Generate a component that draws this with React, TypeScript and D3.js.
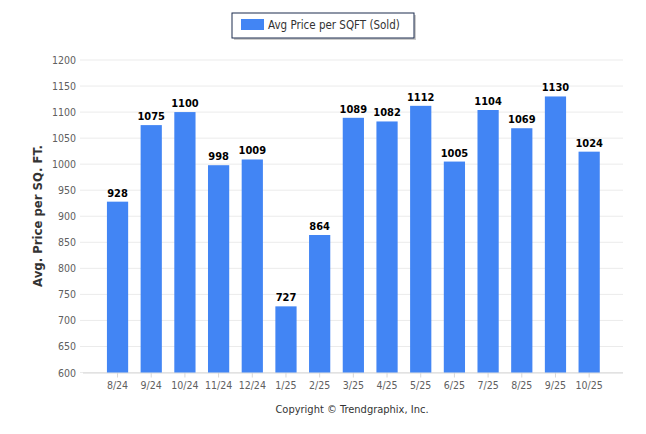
import { useMemo } from "react";
import * as d3 from "d3";

const months = ["8/24", "9/24", "10/24", "11/24", "12/24", "1/25", "2/25", "3/25", "4/25", "5/25", "6/25", "7/25", "8/25", "9/25", "10/25"];
const avgPrice = [928, 1075, 1100, 998, 1009, 727, 864, 1089, 1082, 1112, 1005, 1104, 1069, 1130, 1024];
const yTicks = [600, 650, 700, 750, 800, 850, 900, 950, 1000, 1050, 1100, 1150, 1200];

const font = "'DejaVu Sans Condensed', 'DejaVu Sans', Tahoma, sans-serif";

export default function App() {
  const layout = useMemo(() => {
    const width = 646;
    const height = 434;
    const plot = { left: 80, right: 623, top: 60, bottom: 372.5 };
    const x = d3.scaleBand<string>().domain(months).range([100.7, 606]).paddingInner(0.37).paddingOuter(0.185);
    const y = d3.scaleLinear().domain([600, 1200]).range([plot.bottom, plot.top]);
    return { width, height, plot, x, y };
  }, []);
  const { x, y, plot } = layout;

  return (
    <svg width={layout.width} height={layout.height} style={{ position: "absolute", left: 0, top: 0 }} fontFamily={font}>
      <rect width={layout.width} height={layout.height} fill="white" />
      {yTicks.map((tick) => (
        <g key={tick}>
          <line x1={plot.left} x2={plot.right} y1={y(tick)} y2={y(tick)} stroke="#ebebeb" />
          <text x={76} y={y(tick) + 4} textAnchor="end" fontSize="10.5" fill="#606060">{tick}</text>
        </g>
      ))}
      <line x1={83} x2={plot.right} y1={plot.bottom + 0.5} y2={plot.bottom + 0.5} stroke="#d8d8d8" />
      {months.map((m, i) => {
        const cx = (x(m) ?? 0) + x.bandwidth() / 2;
        return (
          <g key={m}>
            <line x1={cx} x2={cx} y1={plot.bottom} y2={plot.bottom + 5} stroke="#d8d8d8" />
            <text x={cx} y={389} textAnchor="middle" fontSize="10.5" fill="#606060">{m}</text>
            <rect x={x(m)} y={y(avgPrice[i])} width={x.bandwidth()} height={plot.bottom - y(avgPrice[i])} fill="#4285f4" />
            <text x={cx} y={y(avgPrice[i]) - 5} textAnchor="middle" fontSize="11" fontWeight="bold" fill="#000">{avgPrice[i]}</text>
          </g>
        );
      })}
      <text transform="translate(42, 216) rotate(-90)" textAnchor="middle" fontSize="13" fontWeight="bold" fill="#333">Avg. Price per SQ. FT.</text>
      <rect x={234} y={15} width={182} height={25} fill="#999" opacity={0.5} />
      <rect x={232} y={13} width={182} height={25} fill="white" stroke="#1c2d4f" />
      <rect x={241} y={19} width={23} height={11} fill="#4285f4" />
      <text x={268} y={29} fontSize="11.5" fill="#333">Avg Price per SQFT (Sold)</text>
      <text x={352} y={413} textAnchor="middle" fontSize="11" fill="#333">Copyright © Trendgraphix, Inc.</text>
    </svg>
  );
}
